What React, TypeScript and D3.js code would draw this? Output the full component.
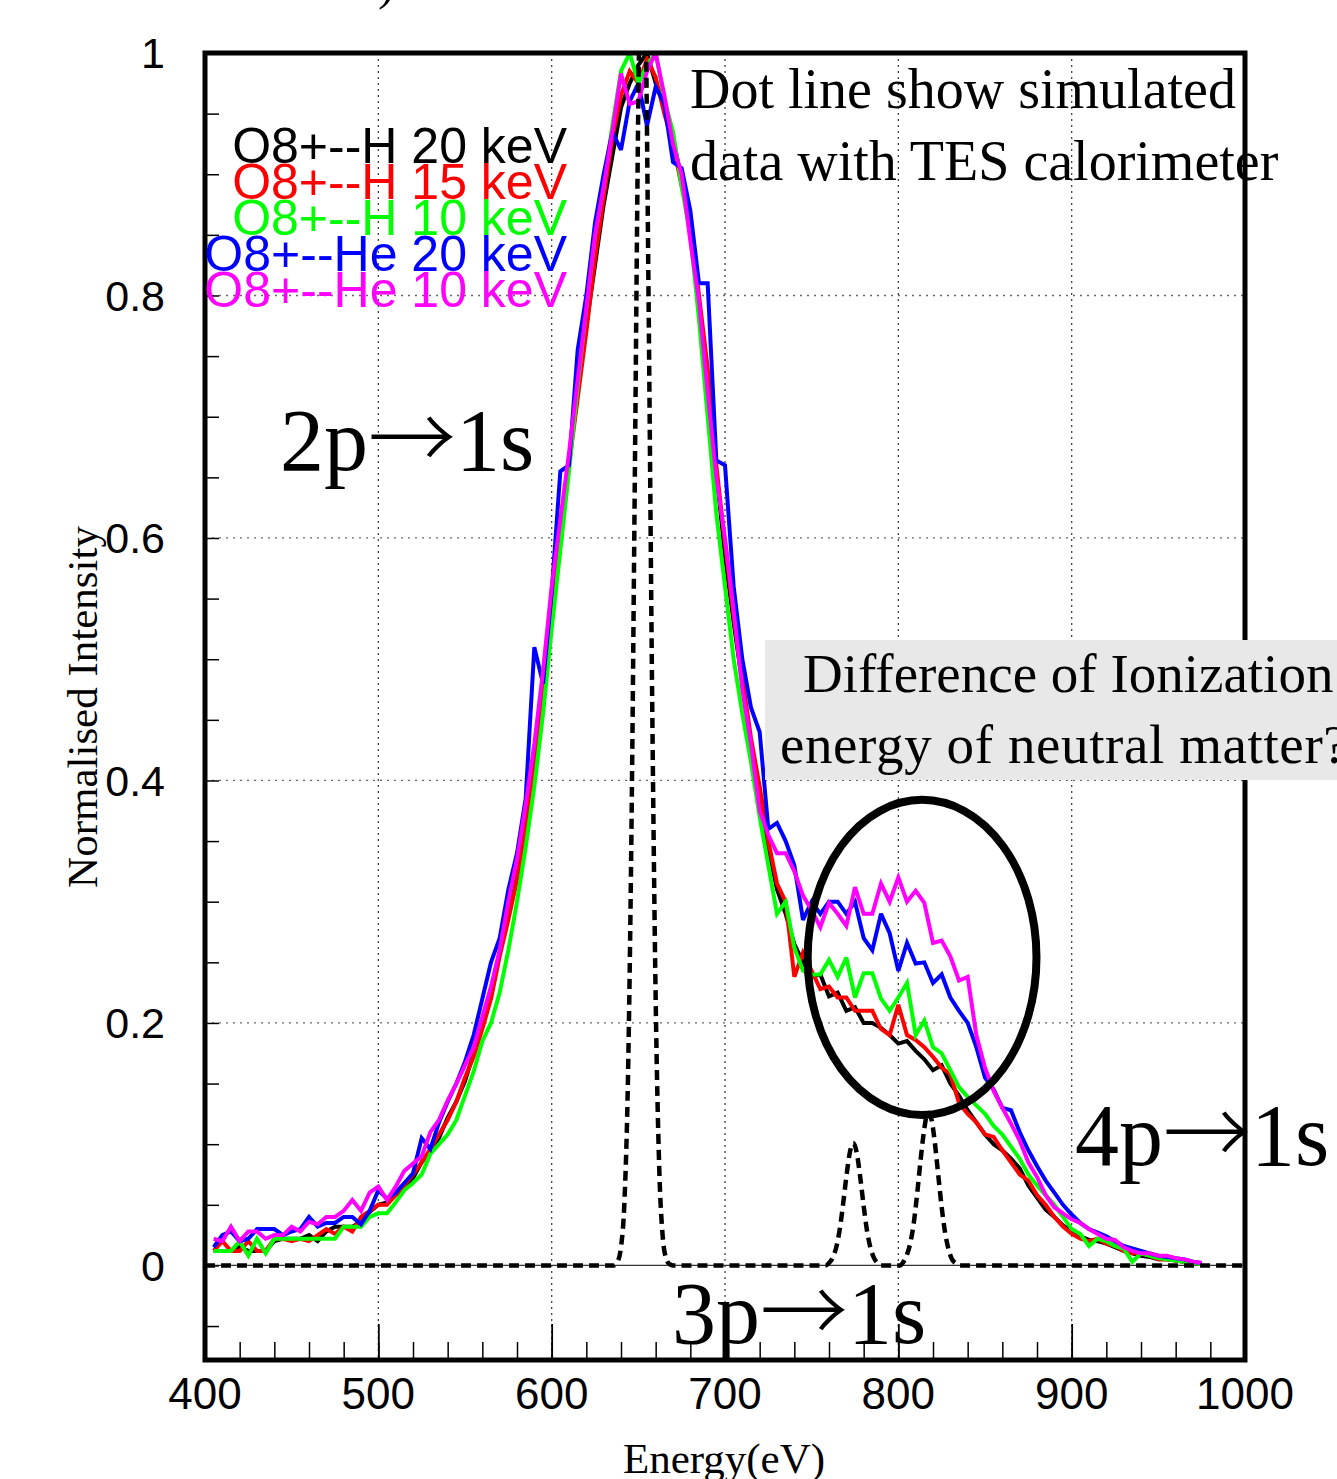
import React, { useRef, useEffect } from "react";
import * as d3 from "d3";

// histogram bins (eV): first bin centre and bin width
const binStart = 405;
const binWidth = 5;

// O8+ -- H 20 keV
const h20 = [
  0.012, 0.012, 0.012, 0.015, 0.012, 0.012, 0.012, 0.02, 0.022, 0.022,
  0.022, 0.025, 0.02, 0.028, 0.032, 0.032, 0.032, 0.036, 0.044, 0.05,
  0.052, 0.058, 0.064, 0.072, 0.085, 0.095, 0.105, 0.122, 0.135, 0.152,
  0.175, 0.2, 0.222, 0.258, 0.29, 0.325, 0.372, 0.42, 0.478, 0.55,
  0.61, 0.665, 0.72, 0.775, 0.825, 0.875, 0.915, 0.955, 0.975, 0.99,
  1.0, 0.975, 0.96, 0.93, 0.895, 0.855, 0.79, 0.73, 0.655, 0.585,
  0.53, 0.48, 0.43, 0.39, 0.345, 0.31, 0.29, 0.265, 0.25, 0.238,
  0.24, 0.222, 0.225, 0.21, 0.213, 0.2, 0.2, 0.196, 0.19, 0.183,
  0.185, 0.177, 0.17, 0.161, 0.165, 0.15, 0.14, 0.128, 0.118, 0.108,
  0.1, 0.095, 0.088, 0.08, 0.066, 0.056, 0.046, 0.04, 0.033, 0.028,
  0.024, 0.021, 0.02, 0.018, 0.015, 0.012, 0.01, 0.008, 0.007, 0.005,
  0.005, 0.004, 0.003, 0.002, 0.001,
];

// O8+ -- H 15 keV
const h15 = [
  0.012, 0.02, 0.012, 0.012, 0.02, 0.012, 0.012, 0.022, 0.022, 0.02,
  0.022, 0.02, 0.025, 0.03, 0.026, 0.032, 0.028, 0.04, 0.045, 0.05,
  0.05, 0.058, 0.066, 0.075, 0.085, 0.096, 0.108, 0.12, 0.135, 0.155,
  0.172, 0.195, 0.22, 0.255, 0.285, 0.318, 0.362, 0.41, 0.47, 0.545,
  0.605, 0.66, 0.715, 0.77, 0.83, 0.88, 0.93, 0.965, 0.985, 0.975,
  0.995, 0.98, 0.95, 0.925, 0.89, 0.86, 0.8, 0.74, 0.66, 0.595,
  0.535, 0.485, 0.435, 0.395, 0.35, 0.315, 0.3, 0.238, 0.258, 0.243,
  0.228, 0.23, 0.221, 0.221, 0.21, 0.21, 0.21, 0.195, 0.19, 0.215,
  0.19, 0.186, 0.18, 0.172, 0.163, 0.158, 0.134, 0.125, 0.118, 0.108,
  0.106, 0.095, 0.085, 0.075, 0.07, 0.058, 0.05, 0.04, 0.032, 0.026,
  0.022, 0.02, 0.022, 0.018, 0.016, 0.012, 0.01, 0.01, 0.008, 0.005,
  0.005, 0.004, 0.003, 0.002, 0.001,
];

// O8+ -- H 10 keV
const h10 = [
  0.012, 0.012, 0.012, 0.02, 0.008, 0.022, 0.01, 0.022, 0.022, 0.022,
  0.022, 0.022, 0.022, 0.022, 0.022, 0.032, 0.032, 0.032, 0.04, 0.043,
  0.043, 0.052, 0.062, 0.068, 0.075, 0.092, 0.1, 0.108, 0.12, 0.14,
  0.16, 0.185, 0.2, 0.225, 0.26, 0.3, 0.345, 0.395, 0.455, 0.525,
  0.59, 0.655, 0.725, 0.79, 0.85, 0.89, 0.94, 0.985, 1.0, 0.975,
  0.99, 1.0, 0.962, 0.935, 0.89, 0.85, 0.78, 0.7, 0.62, 0.56,
  0.5, 0.455, 0.415, 0.37, 0.33, 0.29, 0.3, 0.262, 0.243, 0.24,
  0.24, 0.252, 0.238, 0.254, 0.221, 0.241, 0.241, 0.22, 0.21, 0.221,
  0.233, 0.19, 0.202, 0.18, 0.175, 0.161, 0.147, 0.139, 0.132, 0.125,
  0.115, 0.108, 0.098, 0.088, 0.075, 0.066, 0.058, 0.05, 0.04, 0.03,
  0.026, 0.016, 0.022, 0.02, 0.016, 0.014, 0.003, 0.01, 0.008, 0.006,
  0.005, 0.004, 0.003, 0.002, 0.001,
];

// O8+ -- He 20 keV
const he20 = [
  0.015, 0.025, 0.028, 0.02, 0.022, 0.03, 0.03, 0.03, 0.025, 0.028,
  0.03, 0.04, 0.032, 0.035, 0.035, 0.04, 0.04, 0.034, 0.045, 0.062,
  0.055, 0.06, 0.068, 0.076, 0.105, 0.096, 0.118, 0.135, 0.15, 0.168,
  0.19, 0.22, 0.25, 0.27, 0.31, 0.34, 0.385, 0.51, 0.48, 0.555,
  0.655, 0.66, 0.755, 0.8, 0.86, 0.9, 0.935, 0.92, 0.96, 0.975,
  0.94, 0.972, 0.958, 0.91, 0.905, 0.87, 0.81, 0.81, 0.664, 0.66,
  0.56, 0.5, 0.46, 0.44, 0.36, 0.365, 0.35, 0.33, 0.285, 0.3,
  0.29, 0.3, 0.3, 0.29, 0.3, 0.27, 0.26, 0.29, 0.274, 0.243,
  0.266, 0.249, 0.25, 0.233, 0.24, 0.221, 0.21, 0.2, 0.18, 0.155,
  0.145, 0.13, 0.128, 0.11, 0.095, 0.082, 0.07, 0.06, 0.05, 0.042,
  0.035, 0.03, 0.027, 0.024, 0.02, 0.016, 0.014, 0.012, 0.01, 0.008,
  0.007, 0.006, 0.005, 0.003, 0.002,
];

// O8+ -- He 10 keV
const he10 = [
  0.022, 0.02, 0.032, 0.02, 0.028, 0.028, 0.022, 0.025, 0.025, 0.032,
  0.028, 0.036, 0.034, 0.04, 0.04, 0.045, 0.054, 0.045, 0.06, 0.065,
  0.054, 0.065, 0.078, 0.084, 0.09, 0.11, 0.12, 0.136, 0.15, 0.165,
  0.18, 0.205, 0.23, 0.26, 0.3, 0.335, 0.38, 0.43, 0.49, 0.56,
  0.615, 0.67, 0.73, 0.79, 0.85, 0.89, 0.935, 0.983, 0.958, 0.96,
  0.985, 1.0, 0.965, 0.925, 0.9, 0.845, 0.795, 0.72, 0.65, 0.6,
  0.54, 0.475, 0.43, 0.375, 0.355, 0.34, 0.34, 0.325, 0.305, 0.293,
  0.279, 0.299, 0.29, 0.28, 0.312, 0.29, 0.29, 0.315, 0.3, 0.32,
  0.3, 0.309, 0.299, 0.266, 0.268, 0.255, 0.235, 0.238, 0.19, 0.163,
  0.144, 0.13, 0.117, 0.103, 0.085, 0.073, 0.058, 0.048, 0.043, 0.038,
  0.035, 0.03, 0.026, 0.022, 0.021, 0.015, 0.012, 0.01, 0.01, 0.008,
  0.008, 0.006, 0.005, 0.003, 0.002,
];

// simulated TES calorimeter spectrum (dotted)
const simEnergy = [
  400,
  636, 638, 640, 642, 644, 646, 648, 650, 652, 654, 656, 658, 660, 662, 664, 666, 668, 670,
  758, 760, 762, 764, 766, 768, 770, 772, 774, 776, 778, 780, 782, 784, 786, 788, 790,
  801, 803, 805, 807, 809, 811, 813, 815, 817, 819, 821, 823, 825, 827, 829, 831, 833, 835,
  1000,
];
const simIntensity = [
  0,
  0, 0.003, 0.015, 0.053, 0.153, 0.354, 0.653, 0.96, 1.125, 1.051, 0.783, 0.465, 0.22, 0.083, 0.025, 0.006, 0.001, 0,
  0, 0.002, 0.006, 0.014, 0.028, 0.049, 0.073, 0.093, 0.101, 0.093, 0.073, 0.049, 0.028, 0.014, 0.006, 0.002, 0,
  0, 0.003, 0.009, 0.019, 0.036, 0.061, 0.089, 0.113, 0.126, 0.121, 0.102, 0.075, 0.048, 0.027, 0.013, 0.005, 0.002, 0,
  0,
];

const seriesValues = [h20, h15, h10, he20, he10];
const seriesLabels = [
  "O8+--H 20 keV",
  "O8+--H 15 keV",
  "O8+--H 10 keV",
  "O8+--He 20 keV",
  "O8+--He 10 keV",
];
const seriesColors = ["#000000", "#ff0000", "#00ff00", "#0000ff", "#ff00ff"];

const xTickValues = [400, 500, 600, 700, 800, 900, 1000];
const yTickValues = [0, 0.2, 0.4, 0.6, 0.8, 1];
const yTickLabels = ["0", "0.2", "0.4", "0.6", "0.8", "1"];

// ellipse round the 4p region: centre (eV, intensity) and radii
const ringCenter = [813.7, 0.254];
const ringRadius = [66, 0.13];

const SANS = "'Liberation Sans', Arial, Helvetica, sans-serif";
const SERIF = "'Liberation Serif', 'Times New Roman', serif";
const ARROW = "'Noto Sans CJK JP', 'Noto Sans CJK SC', sans-serif";

const App = () => {
  const svgRef = useRef(null);

  useEffect(() => {
    const W = 1337;
    const H = 1479;
    const margin = { top: 53, right: 92, bottom: 119, left: 205 };
    const width = W - margin.left - margin.right;
    const height = H - margin.top - margin.bottom;

    const svg = d3.select(svgRef.current);
    svg.selectAll("*").remove();
    svg.attr("width", W).attr("height", H);

    svg.append("rect").attr("width", W).attr("height", H).attr("fill", "#fff");

    const x = d3.scaleLinear().domain([400, 1000]).range([0, width]);
    const y = d3.scaleLinear().domain([-0.078, 1]).range([height, 0]);

    const g = svg
      .append("g")
      .attr("transform", `translate(${margin.left},${margin.top})`);

    g.append("clipPath")
      .attr("id", "frame-clip")
      .append("rect")
      .attr("width", width)
      .attr("height", height);

    // grid
    g.selectAll(".vgrid")
      .data(xTickValues.slice(1, -1))
      .enter()
      .append("line")
      .attr("x1", (d) => x(d))
      .attr("x2", (d) => x(d))
      .attr("y1", 0)
      .attr("y2", height)
      .attr("stroke", "#444")
      .attr("stroke-width", 1.3)
      .attr("stroke-dasharray", "2,4");
    g.selectAll(".hgrid")
      .data(yTickValues.slice(1, -1))
      .enter()
      .append("line")
      .attr("x1", 0)
      .attr("x2", width)
      .attr("y1", (d) => y(d))
      .attr("y2", (d) => y(d))
      .attr("stroke", "#666")
      .attr("stroke-width", 1.3)
      .attr("stroke-dasharray", "2,5");

    // zero line
    g.append("line")
      .attr("x1", 0)
      .attr("x2", width)
      .attr("y1", y(0))
      .attr("y2", y(0))
      .attr("stroke", "#333")
      .attr("stroke-width", 1.2);

    // ticks (inside the frame)
    g.append("g")
      .attr("transform", `translate(0,${height})`)
      .call(
        d3.axisBottom(x).tickValues(d3.range(420, 1000, 20)).tickSize(-18).tickFormat(() => "")
      )
      .call((a) => a.select(".domain").remove())
      .call((a) => a.selectAll("line").attr("stroke-width", 1.5));
    g.append("g")
      .attr("transform", `translate(0,${height})`)
      .call(d3.axisBottom(x).tickValues(xTickValues.slice(1, -1)).tickSize(-36).tickFormat(() => ""))
      .call((a) => a.select(".domain").remove())
      .call((a) => a.selectAll("line").attr("stroke-width", 1.8));
    g.append("g")
      .call(
        d3.axisLeft(y).tickValues(d3.range(-0.05, 0.999, 0.05)).tickSize(-14).tickFormat(() => "")
      )
      .call((a) => a.select(".domain").remove())
      .call((a) => a.selectAll("line").attr("stroke-width", 1.5));

    // tick labels
    g.selectAll(".xlab")
      .data(xTickValues)
      .enter()
      .append("text")
      .attr("x", (d) => x(d))
      .attr("y", height + 49)
      .attr("text-anchor", "middle")
      .attr("font-family", SANS)
      .attr("font-size", 44)
      .text((d) => d);
    g.selectAll(".ylab")
      .data(yTickValues)
      .enter()
      .append("text")
      .attr("x", -40)
      .attr("y", (d) => y(d))
      .attr("dy", "0.36em")
      .attr("text-anchor", "end")
      .attr("font-family", SANS)
      .attr("font-size", 43)
      .text((d, i) => yTickLabels[i]);

    // measured spectra
    const data = g.append("g").attr("clip-path", "url(#frame-clip)");
    const line = d3
      .line()
      .x((d, i) => x(binStart + i * binWidth))
      .y((d) => y(d));
    seriesValues.forEach((vals, i) => {
      data.append("path")
        .datum(vals)
        .attr("d", line)
        .attr("fill", "none")
        .attr("stroke", seriesColors[i])
        .attr("stroke-width", 4)
        .attr("stroke-linejoin", "miter")
        .attr("stroke-miterlimit", 3);
    });

    // simulated (dotted)
    const simLine = d3
      .line()
      .x((d, i) => x(simEnergy[i]))
      .y((d) => y(d))
      .curve(d3.curveMonotoneX);
    data.append("path")
      .datum(simIntensity)
      .attr("d", simLine)
      .attr("fill", "none")
      .attr("stroke", "#000")
      .attr("stroke-width", 4.5)
      .attr("stroke-dasharray", "10,6");

    // frame
    g.append("rect")
      .attr("width", width)
      .attr("height", height)
      .attr("fill", "none")
      .attr("stroke", "#000")
      .attr("stroke-width", 5);

    // legend
    seriesLabels.forEach((lab, i) => {
      svg.append("text")
        .attr("x", 567)
        .attr("y", 163 + i * 36)
        .attr("text-anchor", "end")
        .attr("font-family", SANS)
        .attr("font-size", 50)
        .attr("fill", seriesColors[i])
        .text(lab);
    });

    // annotation box
    svg.append("rect")
      .attr("x", 765)
      .attr("y", 640)
      .attr("width", W - 765)
      .attr("height", 140)
      .attr("fill", "#e8e8e8");
    svg.append("text")
      .attr("x", 803)
      .attr("y", 692)
      .attr("font-family", SERIF)
      .attr("font-size", 55)
      .text("Difference of Ionization");
    svg.append("text")
      .attr("x", 780)
      .attr("y", 763)
      .attr("font-family", SERIF)
      .attr("font-size", 55)
      .attr("letter-spacing", 0.6)
      .text("energy of neutral matter?");

    // ellipse
    g.append("ellipse")
      .attr("cx", x(ringCenter[0]))
      .attr("cy", y(ringCenter[1]))
      .attr("rx", x(ringCenter[0] + ringRadius[0]) - x(ringCenter[0]))
      .attr("ry", y(0) - y(ringRadius[1]))
      .attr("fill", "none")
      .attr("stroke", "#000")
      .attr("stroke-width", 8);

    // texts
    const serifText = (tx, ty, size, s) =>
      svg.append("text")
        .attr("x", tx)
        .attr("y", ty)
        .attr("font-family", SERIF)
        .attr("font-size", size)
        .attr("fill", "#000")
        .text(s);
    serifText(690, 108, 56, "Dot line show simulated");
    serifText(690, 180, 56, "data with TES calorimeter");
    serifText(378, -1, 50, ")");

    // transition labels, arrow taken from a CJK font (full-width arrow)
    const transition = (tx, ty, upper) => {
      const t = svg.append("text")
        .attr("x", tx)
        .attr("y", ty)
        .attr("font-family", SERIF)
        .attr("font-size", 88)
        .attr("fill", "#000");
      t.append("tspan").text(upper);
      t.append("tspan").attr("font-family", ARROW).attr("font-weight", 300).text("\u2192");
      t.append("tspan").text("1s");
    };
    transition(280, 470, "2p");
    transition(672, 1343, "3p");
    transition(1075, 1165, "4p");

    // axis titles
    svg.append("text")
      .attr("x", 724)
      .attr("y", 1473)
      .attr("text-anchor", "middle")
      .attr("font-family", SERIF)
      .attr("font-size", 43)
      .text("Energy(eV)");
    svg.append("text")
      .attr("transform", "translate(97,707) rotate(-90)")
      .attr("text-anchor", "middle")
      .attr("font-family", SERIF)
      .attr("font-size", 43)
      .text("Normalised Intensity");
  }, []);

  return (
    <svg
      ref={svgRef}
      style={{ position: "absolute", left: 0, top: 0, display: "block" }}
    ></svg>
  );
};

export default App;
